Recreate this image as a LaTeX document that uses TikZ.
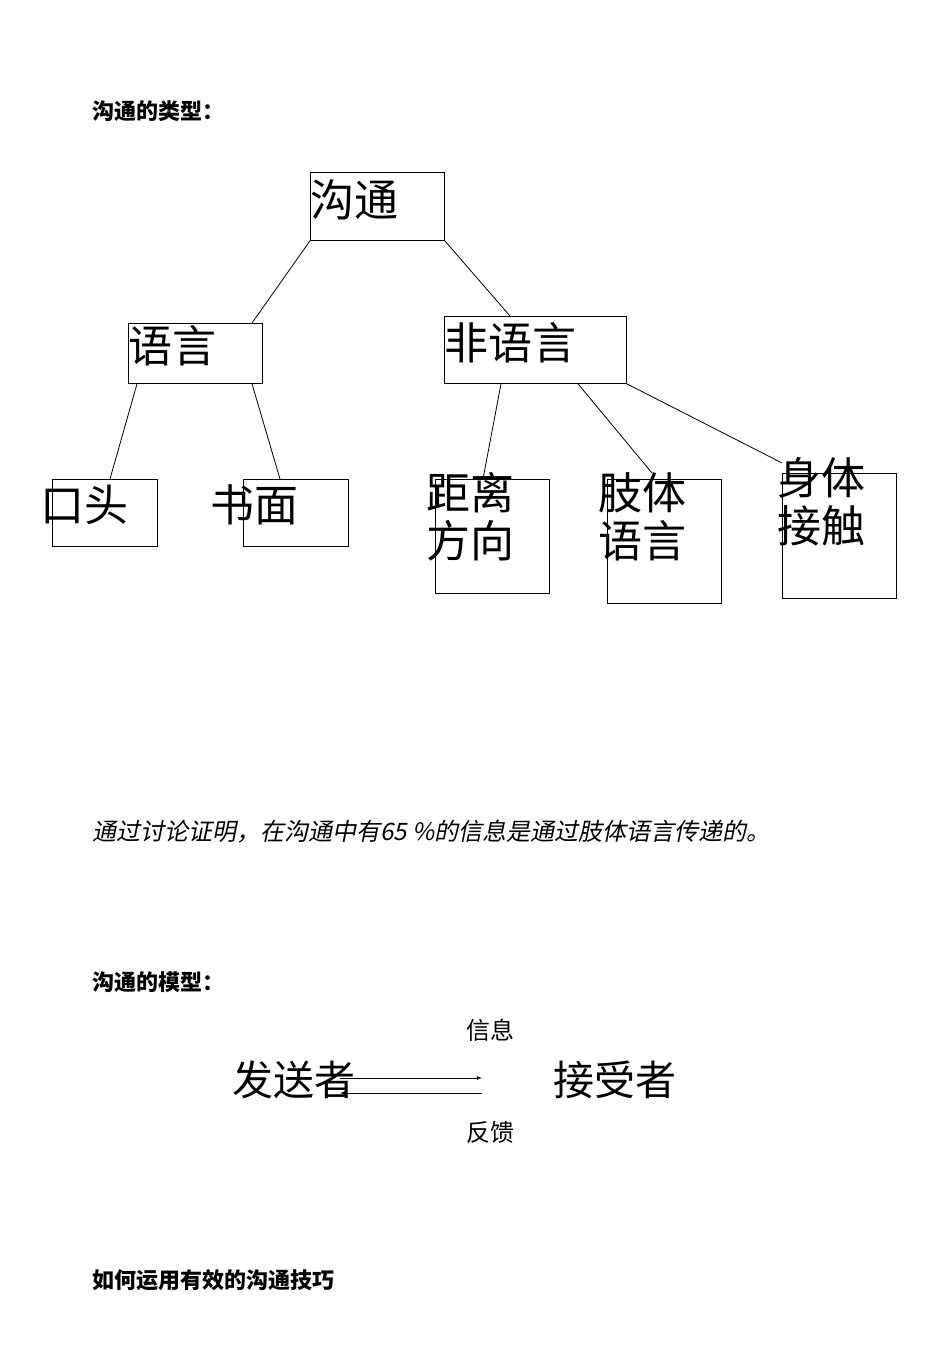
\documentclass[tikz,border=0pt]{standalone}
\usepackage{fontspec}
\setmainfont{Liberation Serif}
\newfontfamily\cjk{Noto Sans CJK SC}
\newfontfamily\cjkit[FakeSlant=0.2]{Noto Sans CJK SC}
\begin{document}
\begin{tikzpicture}[x=1pt,y=-1pt,
  bx/.style={draw,line width=0.8pt,anchor=north west,inner sep=0,minimum width=#1},
  big/.style={anchor=west,inner sep=0,font=\cjk\fontsize{44}{50}\selectfont,align=left},
  head/.style={anchor=west,inner sep=0,font=\cjk\bfseries\fontsize{22}{26}\selectfont},
  ln/.style={line width=0.8pt}]
\useasboundingbox (0,0) rectangle (950,1368);
\node[head] (h1) at (92,111) {沟通的类型：};
% boxes
\node[bx=134pt,minimum height=68pt] (b0) at (310,172) {};
\node[bx=134pt,minimum height=60pt] (b1) at (128,323) {};
\node[bx=182pt,minimum height=67pt] (b2) at (444,316) {};
\node[bx=105pt,minimum height=67pt] (b3) at (52,479) {};
\node[bx=105pt,minimum height=67pt] (b4) at (243,479) {};
\node[bx=114pt,minimum height=114pt] (b5) at (435,479) {};
\node[bx=114pt,minimum height=124pt] (b6) at (607,479) {};
\node[bx=114pt,minimum height=125pt] (b7) at (782,473) {};
% texts
\node[big] (t0) at (310,200) {沟通};
\node[big] (t1) at (128,346) {语言};
\node[big] (t2) at (444,343) {非语言};
\node[big] (t3) at (40,505) {口头};
\node[big] (t4) at (210,505) {书面};
\node[big,anchor=north west] (t5) at (426,472) {距离\\[-2pt]方向};
\node[big,anchor=north west] (t6) at (598,472) {肢体\\[-2pt]语言};
\node[big,anchor=north west] (t7) at (777,457) {身体\\[-2pt]接触};
% connectors
\draw[ln] (b0.south west) -- ([xshift=124pt]b1.north west);
\draw[ln] (b0.south east) -- ([xshift=66pt]b2.north west);
\draw[ln] ([xshift=9pt]b1.south west) -- ([xshift=58pt]b3.north west);
\draw[ln] ([xshift=124pt]b1.south west) -- ([xshift=37pt]b4.north west);
\draw[ln] ([xshift=57pt]b2.south west) -- ([xshift=48pt]b5.north west);
\draw[ln] ([xshift=134pt]b2.south west) -- ([xshift=45pt,yshift=6pt]b6.north west);
\draw[ln] (b2.south east) -- ([yshift=10pt]b7.north west);
% sentence
\node[anchor=west,inner sep=0,font=\cjkit\fontsize{24}{28}\selectfont] (s) at (92,832) {通过讨论证明，在沟通中有65 \%的信息是通过肢体语言传递的。};
\node[head] (h2) at (92,982) {沟通的模型：};
\node[anchor=center,inner sep=0,font=\cjk\fontsize{24}{28}\selectfont] (xx) at (490,1030) {信息};
\node[anchor=center,inner sep=0,font=\cjk\fontsize{24}{28}\selectfont] (fk) at (490,1132) {反馈};
\node[anchor=west,inner sep=0,font=\cjk\fontsize{41}{46}\selectfont] (fs) at (232,1080) {发送者};
\node[anchor=west,inner sep=0,font=\cjk\fontsize{41}{46}\selectfont] (js) at (553,1080) {接受者};
\coordinate (a1) at (340,1078); \coordinate (a2) at (482,1078);
\coordinate (c1) at (482,1093); \coordinate (c2) at (340,1093);
\draw[ln,-latex] (a1) -- (a2);
\draw[ln,-latex] (c1) -- (c2);
\node[head] (h3) at (92,1280) {如何运用有效的沟通技巧};
\end{tikzpicture}
\end{document}
